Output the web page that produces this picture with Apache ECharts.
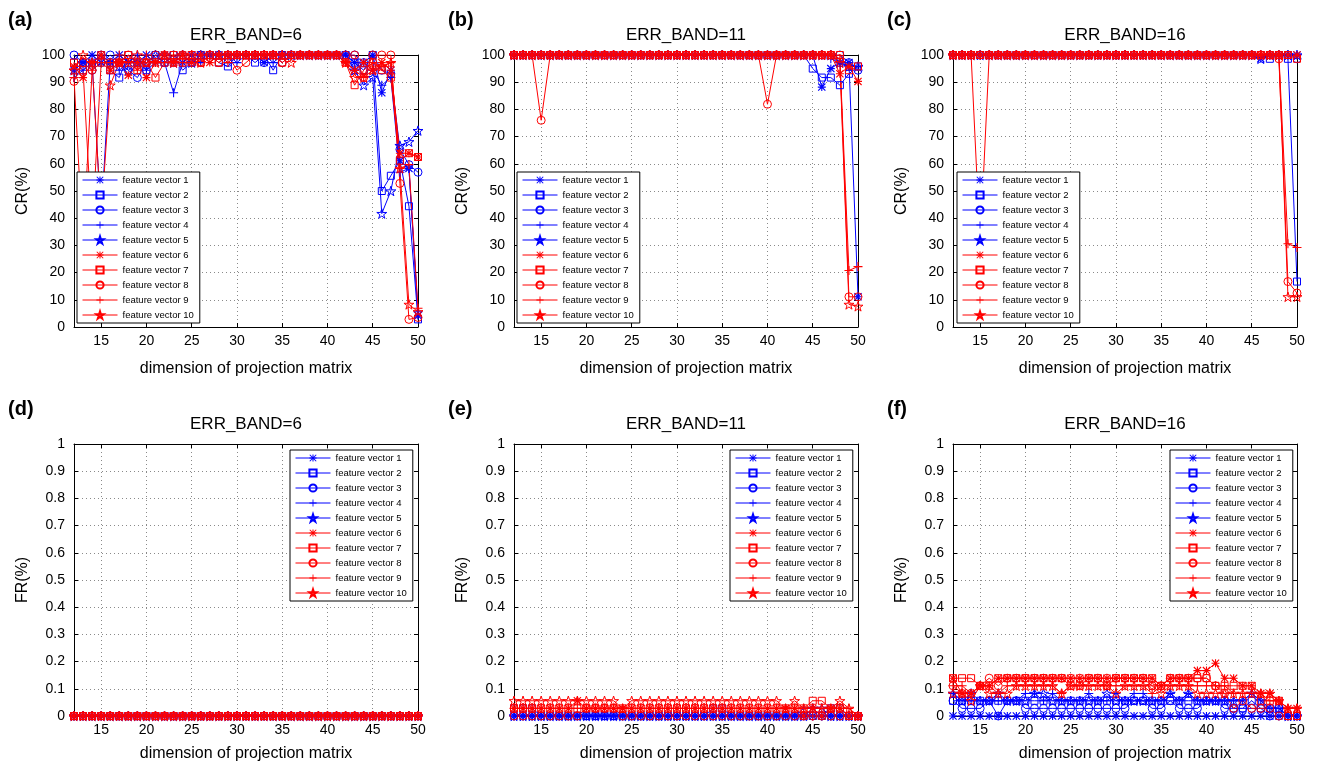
<!DOCTYPE html>
<html>
<head>
<meta charset="utf-8">
<script src="https://cdn.jsdelivr.net/npm/echarts@6/dist/echarts.min.js"></script>
<style>
  html, body { margin: 0; padding: 0; background: #fff; }
  #chart { width: 1318px; height: 769px; }
</style>
</head>
<body>
<div id="chart"></div>
<script>
// ---- data ----
const dims = [12,13,14,15,16,17,18,19,20,21,22,23,24,25,26,27,28,29,30,31,32,33,34,35,36,37,38,39,40,41,42,43,44,45,46,47,48,49,50];
const xTickValues = [15,20,25,30,35,40,45,50];
const vectorNames = ['feature vector 1','feature vector 2','feature vector 3','feature vector 4','feature vector 5',
                     'feature vector 6','feature vector 7','feature vector 8','feature vector 9','feature vector 10'];
const panelTitles = ['ERR_BAND=6','ERR_BAND=11','ERR_BAND=16','ERR_BAND=6','ERR_BAND=11','ERR_BAND=16'];
const panelTags = ['(a)','(b)','(c)','(d)','(e)','(f)'];

// CR(%), ERR_BAND=6 — one row per feature vector
const crBand6 = [
  [94.4,97.2,100,97.2,97.2, 100,97.2,97.2,100,97.2, 100,97.2,97.2,100,100, 100,100,100,100,100, 100,97.2,100,100,100, 100,100,100,100,100, 100,97.2,97.2,100,86.1, 94.4,61.1,58.3,4.2],
  [97.2,94.4,97.2,100,94.4, 91.7,100,97.2,94.4,100, 97.2,100,94.4,97.2,100, 100,97.2,95.8,100,100, 97.2,100,94.4,100,100, 100,100,100,100,100, 100,97.2,94.4,100,50, 55.6,61.1,44.4,2.8],
  [100,97.2,94.4,97.2,100, 97.2,94.4,91.7,97.2,100, 97.2,100,100,97.2,100, 100,100,97.2,100,100, 100,97.2,100,97.2,100, 100,100,100,100,100, 100,100,97.2,100,94.4, 93.1,65.3,59.7,56.9],
  [91.7,94.4,97.2,100,97.2, 94.4,97.2,100,94.4,97.2, 97.2,86.1,97.2,100,97.2, 100,100,100,97.2,100, 100,100,97.2,100,100, 100,100,100,100,100, 97.2,94.4,97.2,94.4,88.9, 91.7,56.9,58.3,5.6],
  [94.4,97.2,97.2,40,97.2, 97.2,94.4,97.2,97.2,100, 100,97.2,100,97.2,100, 100,100,100,100,100, 100,100,100,100,100, 100,100,100,100,100, 100,94.4,88.9,91.7,41.7, 50,66.7,68.1,72.2],
  [95.8,91.7,97.2,100,94.4, 97.2,92.6,97.2,91.7,97.2, 100,97.2,100,97.2,100, 97.2,100,100,100,100, 100,100,100,100,100, 100,100,100,100,100, 97.2,94.4,97.2,94.4,97.2, 94.4,63.9,63.9,62.5],
  [97.2,94.4,35,97.2,94.4, 97.2,100,94.4,97.2,91.7, 97.2,100,97.2,100,97.2, 100,97.2,100,100,100, 100,100,100,97.2,100, 100,100,100,100,100, 97.2,88.9,94.4,97.2,94.4, 91.7,61.1,63.9,62.5],
  [90.3,97.2,94.4,100,97.2, 97.2,100,97.2,97.2,100, 100,97.2,100,97.2,97.2, 100,97.2,100,94.4,97.2, 100,100,100,97.2,100, 100,100,100,100,100, 100,100,91.7,100,100, 100,52.8,2.8,3.5],
  [91.7,30,94.4,97.2,97.2, 100,97.2,94.4,100,97.2, 97.2,100,97.2,100,100, 100,100,97.2,100,100, 100,100,100,100,100, 100,100,100,100,100, 97.2,94.4,91.7,97.2,95.8, 97.2,58.3,59.7,6.9],
  [94.4,100,97.2,40,88.9, 97.2,97.2,100,97.2,97.2, 100,97.2,100,100,97.2, 100,100,100,100,100, 100,100,100,100,97.2, 100,100,100,100,100, 97.2,91.7,91.7,94.4,95.8, 97.2,58.3,8.3,5.6]
];

// CR(%), ERR_BAND=11
const crBand11 = [
  [100,100,100,100,100, 100,100,100,100,100, 100,100,100,100,100, 100,100,100,100,100, 100,100,100,100,100, 100,100,100,100,100, 100,100,100,100,88.2, 95,97.2,97.2,11.1],
  [100,100,100,100,100, 100,100,100,100,100, 100,100,100,100,100, 100,100,100,100,100, 100,100,100,100,100, 100,100,100,100,100, 100,100,100,95,91.7, 91.7,88.9,93.1,95.8],
  [100,100,100,100,100, 100,100,100,100,100, 100,100,100,100,100, 100,100,100,100,100, 100,100,100,100,100, 100,100,100,100,100, 100,100,100,100,100, 100,100,97.2,94.4],
  [100,100,100,100,100, 100,100,100,100,100, 100,100,100,100,100, 100,100,100,100,100, 100,100,100,100,100, 100,100,100,100,100, 100,100,100,100,100, 98.6,97.2,95.8,95.8],
  [100,100,100,100,100, 100,100,100,100,100, 100,100,100,100,100, 100,100,100,100,100, 100,100,100,100,100, 100,100,100,100,100, 100,100,100,100,100, 100,97.2,95.8,95.8],
  [100,100,100,100,100, 100,100,100,100,100, 100,100,100,100,100, 100,100,100,100,100, 100,100,100,100,100, 100,100,100,100,100, 100,100,100,100,100, 100,93.1,95.8,90.3],
  [100,100,100,100,100, 100,100,100,100,100, 100,100,100,100,100, 100,100,100,100,100, 100,100,100,100,100, 100,100,100,100,100, 100,100,100,100,100, 100,100,94.4,95.8],
  [100,100,100,76,100, 100,100,100,100,100, 100,100,100,100,100, 100,100,100,100,100, 100,100,100,100,100, 100,100,100,81.9,100, 100,100,100,100,100, 100,98.6,11.1,11.1],
  [100,100,100,100,100, 100,100,100,100,100, 100,100,100,100,100, 100,100,100,100,100, 100,100,100,100,100, 100,100,100,100,100, 100,100,100,100,100, 100,98.6,20.8,22.2],
  [100,100,100,100,100, 100,100,100,100,100, 100,100,100,100,100, 100,100,100,100,100, 100,100,100,100,100, 100,100,100,100,100, 100,100,100,100,100, 100,97.2,8.3,7.6]
];

// CR(%), ERR_BAND=16
const crBand16 = [
  [100,100,100,100,100, 100,100,100,100,100, 100,100,100,100,100, 100,100,100,100,100, 100,100,100,100,100, 100,100,100,100,100, 100,100,100,100,98.6, 100,100,100,100],
  [100,100,100,100,100, 100,100,100,100,100, 100,100,100,100,100, 100,100,100,100,100, 100,100,100,100,100, 100,100,100,100,100, 100,100,100,100,100, 98.6,100,98.6,16.7],
  [100,100,100,100,100, 100,100,100,100,100, 100,100,100,100,100, 100,100,100,100,100, 100,100,100,100,100, 100,100,100,100,100, 100,100,100,100,100, 100,100,100,98.6],
  [100,100,100,100,100, 100,100,100,100,100, 100,100,100,100,100, 100,100,100,100,100, 100,100,100,100,100, 100,100,100,100,100, 100,100,100,100,100, 100,100,100,100],
  [100,100,100,100,100, 100,100,100,100,100, 100,100,100,100,100, 100,100,100,100,100, 100,100,100,100,100, 100,100,100,100,100, 100,100,100,100,98.6, 100,100,100,100],
  [100,100,100,100,100, 100,100,100,100,100, 100,100,100,100,100, 100,100,100,100,100, 100,100,100,100,100, 100,100,100,100,100, 100,100,100,100,100, 100,100,100,100],
  [100,100,100,100,100, 100,100,100,100,100, 100,100,100,100,100, 100,100,100,100,100, 100,100,100,100,100, 100,100,100,100,100, 100,100,100,100,100, 100,100,100,98.6],
  [100,100,100,100,100, 100,100,100,100,100, 100,100,100,100,100, 100,100,100,100,100, 100,100,100,100,100, 100,100,100,100,100, 100,100,100,100,100, 100,98.6,16.7,12.5],
  [100,100,100,100,100, 100,100,100,100,100, 100,100,100,100,100, 100,100,100,100,100, 100,100,100,100,100, 100,100,100,100,100, 100,100,100,100,100, 100,100,30.6,29.2],
  [100,100,100,30,100, 100,100,100,100,100, 100,100,100,100,100, 100,100,100,100,100, 100,100,100,100,100, 100,100,100,100,100, 100,100,100,100,100, 100,100,11.1,11.1]
];

// FR(%), ERR_BAND=6
const frBand6 = [
  [0,0,0,0,0, 0,0,0,0,0, 0,0,0,0,0, 0,0,0,0,0, 0,0,0,0,0, 0,0,0,0,0, 0,0,0,0,0, 0,0,0,0],
  [0,0,0,0,0, 0,0,0,0,0, 0,0,0,0,0, 0,0,0,0,0, 0,0,0,0,0, 0,0,0,0,0, 0,0,0,0,0, 0,0,0,0],
  [0,0,0,0,0, 0,0,0,0,0, 0,0,0,0,0, 0,0,0,0,0, 0,0,0,0,0, 0,0,0,0,0, 0,0,0,0,0, 0,0,0,0],
  [0,0,0,0,0, 0,0,0,0,0, 0,0,0,0,0, 0,0,0,0,0, 0,0,0,0,0, 0,0,0,0,0, 0,0,0,0,0, 0,0,0,0],
  [0,0,0,0,0, 0,0,0,0,0, 0,0,0,0,0, 0,0,0,0,0, 0,0,0,0,0, 0,0,0,0,0, 0,0,0,0,0, 0,0,0,0],
  [0,0,0,0,0, 0,0,0,0,0, 0,0,0,0,0, 0,0,0,0,0, 0,0,0,0,0, 0,0,0,0,0, 0,0,0,0,0, 0,0,0,0],
  [0,0,0,0,0, 0,0,0,0,0, 0,0,0,0,0, 0,0,0,0,0, 0,0,0,0,0, 0,0,0,0,0, 0,0,0,0,0, 0,0,0,0],
  [0,0,0,0,0, 0,0,0,0,0, 0,0,0,0,0, 0,0,0,0,0, 0,0,0,0,0, 0,0,0,0,0, 0,0,0,0,0, 0,0,0,0],
  [0,0,0,0,0, 0,0,0,0,0, 0,0,0,0,0, 0,0,0,0,0, 0,0,0,0,0, 0,0,0,0,0, 0,0,0,0,0, 0,0,0,0],
  [0,0,0,0,0, 0,0,0,0,0, 0,0,0,0,0, 0,0,0,0,0, 0,0,0,0,0, 0,0,0,0,0, 0,0,0,0,0, 0,0,0,0]
];

// FR(%), ERR_BAND=11
const frBand11 = [
  [0,0,0,0,0, 0,0,0,0,0, 0,0,0,0,0, 0,0,0,0,0, 0,0,0,0,0, 0,0,0,0,0, 0,0,0,0,0, 0,0,0,0],
  [.028,.028,.028,0,0, 0,0,0,0,0, 0,0,0,0,0, 0,0,0,0,0, 0,0,.028,.028,0, 0,0,0,0,0, 0,0,0,0,0, .028,.028,0,0],
  [0,0,0,0,0, 0,0,0,0,0, 0,0,0,0,0, 0,0,0,0,0, 0,0,0,0,0, 0,0,0,0,0, 0,0,0,0,0, 0,0,0,0],
  [0,0,0,0,0, 0,0,0,0,0, 0,0,0,0,0, 0,0,0,0,0, 0,0,0,0,0, 0,0,0,0,0, 0,0,.028,.028,0, 0,0,0,0],
  [0,0,0,0,0, 0,0,0,0,0, 0,0,0,0,0, 0,0,0,0,0, 0,0,0,0,0, 0,0,0,0,0, 0,0,0,.028,.028, 0,0,0,0],
  [.028,.028,.028,.028,.028, .028,.028,.056,.028,.028, .028,.028,.028,.028,.028, .028,.028,.028,.028,.028, .028,.028,.028,.028,.028, .028,.028,.028,.028,.028, .028,.028,0,.028,0, .028,.028,0,0],
  [.028,.028,.028,.028,.028, .028,.028,.028,.028,.028, .028,.028,.028,.028,.028, .028,.028,.028,.028,.028, .028,.028,.028,.028,.028, .028,.028,.028,.028,.028, .028,.028,.028,.056,.056, .028,.028,0,0],
  [0,0,0,0,0, 0,0,0,.028,.028, .028,.028,0,0,0, 0,0,0,0,0, 0,0,0,0,0, 0,0,0,0,0, 0,0,0,0,0, 0,0,0,0],
  [.028,.028,.028,.028,.028, .028,.028,.028,.028,.028, .028,.028,.028,.028,.028, .028,.028,.028,.028,.028, .028,.028,.028,.028,.028, .028,.028,.028,.028,.028, .028,.028,.028,0,.028, .028,.028,.028,0],
  [.056,.056,.056,.056,.056, .056,.056,.056,.056,.056, .056,.056,.028,.056,.056, .056,.056,.056,.056,.056, .056,.056,.056,.056,.056, .056,.056,.056,.056,.056, .028,.056,.028,.028,.028, .028,.056,.028,0]
];

// FR(%), ERR_BAND=16
const frBand16 = [
  [0,0,0,0,0, 0,0,0,0,0, 0,0,0,0,0, 0,0,0,0,0, 0,0,0,0,0, 0,0,0,0,0, 0,0,0,0,0, 0,0,0,0],
  [.056,.056,.056,.056,.056, .056,.056,.056,.056,.056, .056,.056,.056,.056,.056, .056,.056,.056,.056,.056, .056,.056,.056,.056,.056, .056,.056,.056,.056,.056, .056,.028,.028,.056,.028, .028,.028,0,0],
  [.056,.028,.028,.028,.056, 0,.056,.056,.028,.028, .028,.028,.028,.028,.028, .028,.028,.028,.028,.028, .056,.056,.028,.028,.056, .028,.028,.028,.056,.056, .028,.028,.028,.028,.028, 0,0,0,0],
  [.083,.056,.056,.056,.056, .056,.056,.056,.083,.083, .056,.083,.056,.056,.056, .083,.056,.056,.083,.056, .083,.083,.056,.056,.083, .056,.083,.056,.056,.056, .056,.056,.056,.083,.056, .028,.028,0,0],
  [.083,.056,.083,.056,.056, .083,.056,.056,.056,.083, .083,.056,.056,.056,.056, .056,.056,.083,.056,.056, .056,.056,.056,.056,.083, .056,.083,.056,.056,.056, .056,.056,.056,.083,.056, .028,.028,0,0],
  [.139,.083,.083,.111,.111, .139,.139,.139,.139,.139, .139,.139,.139,.139,.139, .139,.139,.139,.139,.139, .139,.139,.139,.111,.139, .139,.139,.167,.167,.194, .139,.139,.111,.111,.083, .083,.056,.028,.028],
  [.139,.139,.139,.111,.111, .139,.139,.139,.139,.139, .139,.139,.139,.111,.111, .139,.139,.111,.139,.139, .139,.139,.139,.111,.139, .139,.139,.139,.139,.111, .111,.111,.111,.111,.056, .056,.056,0,0],
  [.111,.083,.083,.111,.139, .111,.139,.139,.139,.139, .139,.139,.139,.139,.139, .139,.139,.139,.139,.139, .139,.139,.111,.111,.139, .139,.139,.139,.139,.111, .083,.028,.056,.028,.028, .028,0,0,0],
  [.111,.111,.083,.111,.111, .083,.111,.111,.111,.111, .111,.111,.083,.111,.111, .111,.111,.111,.111,.111, .111,.111,.083,.111,.111, .111,.111,.111,.111,.111, .111,.083,.083,.083,.083, .056,.056,.028,.028],
  [.083,.083,.056,.111,.083, .083,.083,.111,.111,.111, .111,.111,.083,.111,.111, .111,.111,.111,.083,.111, .111,.111,.111,.083,.111, .111,.111,.083,.083,.083, .083,.083,.083,.083,.083, .083,.056,.028,.028]
];

// ---- drawing ----
const FONT = '"Liberation Sans", Arial, Helvetica, sans-serif';
const BLUE = '#0000ff';
const RED = '#ff0000';

// marker glyphs (filled thin bars for * and +, outline for the star)
const ASTERISK = 'path://M8.6,0H11.4V20H8.6Z M0,8.6H20V11.4H0Z M0,2L2,0L20,18L18,20Z M18,0L20,2L2,20L0,18Z';
const PLUS = 'path://M8.8,0H11.2V20H8.8Z M0,8.8H20V11.2H0Z';
const STAR = 'path://M10,0L12.25,6.91L19.51,6.91L13.63,11.18L15.88,18.09L10,13.82L4.12,18.09L6.37,11.18L0.49,6.91L7.75,6.91Z';

const markerSet = [
  { symbol: ASTERISK, size: 8, open: false },
  { symbol: 'rect', size: 7, open: true },
  { symbol: 'circle', size: 8, open: true },
  { symbol: PLUS, size: 9, open: false },
  { symbol: STAR, size: 10, open: true }
];

const panels = [
  { data: crBand6,  left: 74,  top: 55,  yMax: 100, yStep: 10,  yName: 'CR(%)', xNameGap: 34, legend: [77, 172] },
  { data: crBand11, left: 514, top: 55,  yMax: 100, yStep: 10,  yName: 'CR(%)', xNameGap: 34, legend: [517, 172] },
  { data: crBand16, left: 953, top: 55,  yMax: 100, yStep: 10,  yName: 'CR(%)', xNameGap: 34, legend: [957, 172] },
  { data: frBand6,  left: 74,  top: 444, yMax: 1,   yStep: 0.1, yName: 'FR(%)', xNameGap: 30, legend: [290, 450] },
  { data: frBand11, left: 514, top: 444, yMax: 1,   yStep: 0.1, yName: 'FR(%)', xNameGap: 30, legend: [730, 450] },
  { data: frBand16, left: 953, top: 444, yMax: 1,   yStep: 0.1, yName: 'FR(%)', xNameGap: 30, legend: [1170, 450] }
];
const PLOT_W = 344;
const PLOT_H = 272;

const showTick = (idx, val) => xTickValues.includes(Number(val));
const axisLineStyle = { color: '#000', width: 1 };
const gridLineStyle = { color: '#8a8a8a', width: 1, type: [1, 3] };

const grids = [], xAxes = [], yAxes = [], series = [], legends = [], titles = [];

panels.forEach((p, pi) => {
  grids.push({ left: p.left, top: p.top, width: PLOT_W, height: PLOT_H, containLabel: false });

  xAxes.push({
    type: 'category', gridIndex: pi, data: dims.map(String), boundaryGap: false,
    axisLine: { show: true, onZero: false, lineStyle: axisLineStyle },
    axisTick: { show: true, inside: true, length: 4, interval: showTick, lineStyle: axisLineStyle },
    axisLabel: { interval: showTick, color: '#000', fontSize: 14, fontFamily: FONT, margin: 7 },
    splitLine: { show: true, interval: showTick, lineStyle: gridLineStyle },
    name: 'dimension of projection matrix', nameLocation: 'middle', nameGap: p.xNameGap,
    nameTextStyle: { color: '#000', fontSize: 16, fontFamily: FONT }
  });
  xAxes.push({
    type: 'category', gridIndex: pi, data: dims.map(String), boundaryGap: false, position: 'top',
    axisLine: { show: true, onZero: false, lineStyle: axisLineStyle },
    axisTick: { show: true, inside: true, length: 4, interval: showTick, lineStyle: axisLineStyle },
    axisLabel: { show: false }, splitLine: { show: false }
  });

  yAxes.push({
    type: 'value', gridIndex: pi, min: 0, max: p.yMax, interval: p.yStep,
    axisLine: { show: true, onZero: false, lineStyle: axisLineStyle },
    axisTick: { show: true, inside: true, length: 4, lineStyle: axisLineStyle },
    axisLabel: { color: '#000', fontSize: 14, fontFamily: FONT, margin: 9 },
    splitLine: { show: true, lineStyle: gridLineStyle },
    name: p.yName, nameLocation: 'middle', nameGap: 43,
    nameTextStyle: { color: '#000', fontSize: 16, fontFamily: FONT }
  });
  yAxes.push({
    type: 'value', gridIndex: pi, min: 0, max: p.yMax, interval: p.yStep, position: 'right',
    axisLine: { show: true, onZero: false, lineStyle: axisLineStyle },
    axisTick: { show: true, inside: true, length: 4, lineStyle: axisLineStyle },
    axisLabel: { show: false }, splitLine: { show: false }
  });

  p.data.forEach((values, si) => {
    const m = markerSet[si % 5];
    const color = si < 5 ? BLUE : RED;
    series.push({
      type: 'line', name: vectorNames[si],
      xAxisIndex: 2 * pi, yAxisIndex: 2 * pi,
      data: values,
      symbol: m.symbol, symbolSize: m.size, showAllSymbol: true, symbolKeepAspect: true,
      lineStyle: { color: color, width: 1 },
      itemStyle: m.open
        ? { color: 'rgba(0,0,0,0)', borderColor: color, borderWidth: 1 }
        : { color: color, borderWidth: 0 },
      emphasis: { disabled: true },
      silent: true,
      z: 2
    });
  });

  legends.push({
    orient: 'vertical', left: p.legend[0], top: p.legend[1],
    itemWidth: 35, itemHeight: 9, itemGap: 5,
    padding: [3, 6, 3, 5],
    backgroundColor: '#fff', borderColor: '#000', borderWidth: 1, borderRadius: 0,
    selectedMode: false,
    lineStyle: { width: 1 },
    textStyle: { color: '#000', fontSize: 9.5, fontFamily: FONT },
    data: vectorNames,
    z: 10
  });

  titles.push({
    text: panelTitles[pi], left: p.left + PLOT_W / 2, top: p.top - 28, textAlign: 'center', padding: 0,
    textStyle: { color: '#000', fontSize: 17, fontWeight: 'normal', fontFamily: FONT }
  });
  titles.push({
    text: panelTags[pi], left: p.left - 66, top: p.top - 45, padding: 0,
    textStyle: { color: '#000', fontSize: 20, fontWeight: 'bold', fontFamily: FONT }
  });
});

const chart = echarts.init(document.getElementById('chart'), null, { renderer: 'canvas' });
chart.setOption({
  animation: false,
  backgroundColor: '#fff',
  title: titles,
  grid: grids,
  xAxis: xAxes,
  yAxis: yAxes,
  legend: legends,
  series: series
});
</script>
</body>
</html>
